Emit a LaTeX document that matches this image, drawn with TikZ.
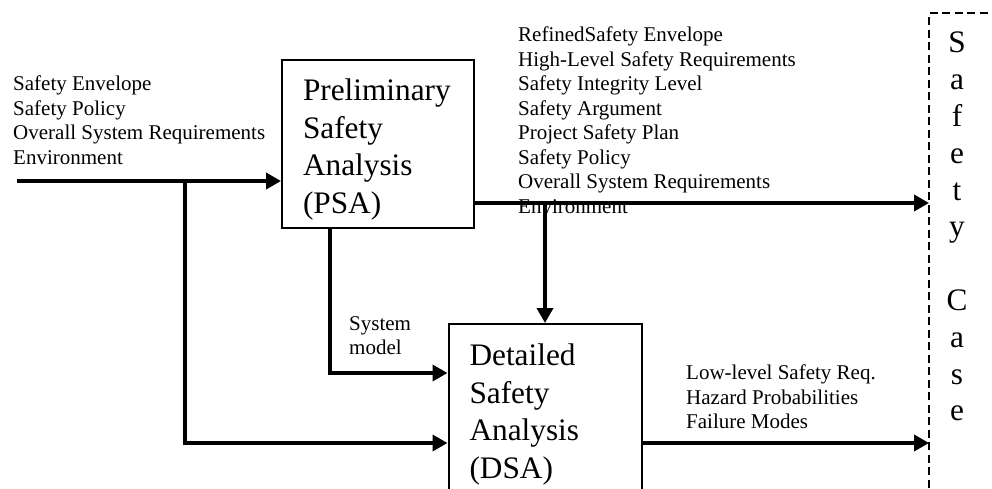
\documentclass[tikz,border=0pt]{standalone}
\usepackage{fontspec}
\setmainfont{Liberation Serif}
\usetikzlibrary{arrows.meta}
\begin{document}
\begin{tikzpicture}[x=1pt,y=-1pt,
  flow/.style={line width=3.6pt,-{Triangle[length=15pt,width=16pt]}},
  stage/.style={draw,line width=2pt,inner xsep=21pt,inner ysep=0pt,align=left,
    text height=32pt,font=\fontsize{31.3pt}{37.7pt}\selectfont},
  note/.style={inner sep=0pt,anchor=north west,align=left,
    font=\fontsize{21pt}{24.5pt}\selectfont},
  casebox/.style={line width=2.5pt,dash pattern=on 8pt off 4.5pt}]
\clip (0,0) rectangle (992,488);

% analysis stages
\node[stage,minimum width=192pt,minimum height=168pt,text width=150pt,
  text depth=119.4pt]
  (psa) at (378,144) {Preliminary\\Safety\\Analysis\\(PSA)};
\node[stage,minimum width=193pt,minimum height=176pt,text width=151pt,
  text depth=125.4pt]
  (dsa) at (545,412) {Detailed\\Safety\\Analysis\\(DSA)};

% connector anchors
\coordinate (src)    at (17,181);
\coordinate (fork1)  at (185,181);
\coordinate (fork2)  at (545,203);
\coordinate (smturn) at (330,373);
\coordinate (sc1)    at (929,203);
\coordinate (sc2)    at (929,443);
\coordinate (scTop)  at (929,13);
\coordinate (scBot)  at (929,500);
\coordinate (scEnd)  at (1000,13);

% flows
\draw[flow] (src) -- (src -| psa.west);
\draw[flow] (fork1) |- (dsa.west |- sc2);
\draw[flow] (psa.south -| smturn) |- (dsa.west |- smturn);
\draw[flow] (psa.east |- fork2) -- (sc1);
\draw[flow] (fork2) -- (dsa.north);
\draw[flow] (dsa.east |- sc2) -- (sc2);

% safety case container
\draw[casebox] (scBot) -- (scTop) -- (scEnd);
\node[inner sep=0pt,anchor=north,align=center,
  font=\fontsize{31.3pt}{36.8pt}\selectfont] (case) at (957,32)
  {S\\a\\f\\e\\t\\y\\\mbox{}\\C\\a\\s\\e};

% flow labels
\node[note] (inlbl) at (13,76)
  {Safety Envelope\\Safety Policy\\Overall System Requirements\\Environment};
\node[note] (outlbl) at (518,27)
  {RefinedSafety Envelope\\High-Level Safety Requirements\\Safety Integrity Level\\Safety Argument\\Project Safety Plan\\Safety Policy\\Overall System Requirements\\Environment};
\node[note] (smlbl) at (349,316) {System\\model};
\node[note] (lowlbl) at (686,365)
  {Low-level Safety Req.\\Hazard Probabilities\\Failure Modes};
\end{tikzpicture}
\end{document}
